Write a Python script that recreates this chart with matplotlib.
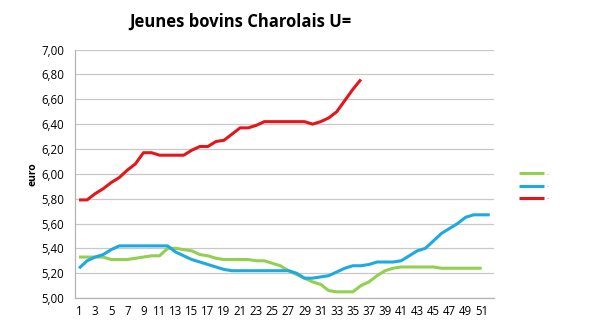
import numpy as np
from matplotlib import pyplot as plt
from matplotlib.ticker import FuncFormatter

# weekly prices (euro)
weeks_red = list(range(1, 37))
red = [5.79, 5.79, 5.84, 5.88, 5.93, 5.97, 6.03, 6.08, 6.17, 6.17,
       6.15, 6.15, 6.15, 6.15, 6.19, 6.22, 6.22, 6.26, 6.27, 6.32,
       6.37, 6.37, 6.39, 6.42, 6.42, 6.42, 6.42, 6.42, 6.42, 6.40,
       6.42, 6.45, 6.50, 6.59, 6.68, 6.76]

weeks_blue = list(range(1, 53))
blue = [5.24, 5.30, 5.33, 5.35, 5.39, 5.42, 5.42, 5.42, 5.42, 5.42,
        5.42, 5.42, 5.37, 5.34, 5.31, 5.29, 5.27, 5.25, 5.23, 5.22,
        5.22, 5.22, 5.22, 5.22, 5.22, 5.22, 5.22, 5.20, 5.16, 5.16,
        5.17, 5.18, 5.21, 5.24, 5.26, 5.26, 5.27, 5.29, 5.29, 5.29,
        5.30, 5.34, 5.38, 5.40, 5.46, 5.52, 5.56, 5.60, 5.65, 5.67,
        5.67, 5.67]

weeks_green = list(range(1, 52))
green = [5.33, 5.33, 5.33, 5.33, 5.31, 5.31, 5.31, 5.32, 5.33, 5.34,
         5.34, 5.40, 5.40, 5.39, 5.38, 5.35, 5.34, 5.32, 5.31, 5.31,
         5.31, 5.31, 5.30, 5.30, 5.28, 5.26, 5.22, 5.19, 5.16, 5.13,
         5.11, 5.06, 5.05, 5.05, 5.05, 5.10, 5.13, 5.18, 5.22, 5.24,
         5.25, 5.25, 5.25, 5.25, 5.25, 5.24, 5.24, 5.24, 5.24, 5.24,
         5.24]

title = "Jeunes bovins Charolais U="
xticks = list(range(1, 52, 2))

plt.rcParams['font.family'] = ['Open Sans', 'DejaVu Sans']

fig = plt.figure(figsize=(6, 3.33), dpi=100)
ax = fig.add_axes([0.125, 0.105, 0.698, 0.746])

l_green, = ax.plot(weeks_green, green, color='#92d050', lw=2.2, solid_capstyle='butt')
l_blue, = ax.plot(weeks_blue, blue, color='#1fa9e1', lw=2.2, solid_capstyle='butt')
l_red, = ax.plot(weeks_red, red, color='#e3161c', lw=2.2, solid_capstyle='butt')

ax.set_xlim(0.5, 52.5)
ax.set_ylim(5.0, 7.0)
ax.set_yticks(np.arange(5.0, 7.01, 0.2))
ax.yaxis.set_major_formatter(FuncFormatter(lambda v, p: ('%.2f' % v).replace('.', ',')))
ax.set_xticks(xticks)
ax.tick_params(axis='x', length=0, labelsize=8.3, pad=5)
ax.tick_params(axis='y', length=0, labelsize=8.3, pad=8)
ax.grid(axis='y', color='#c8c8c8', lw=0.9)
ax.set_axisbelow(True)
for s in ['top', 'right']:
    ax.spines[s].set_visible(False)
for s in ['left', 'bottom']:
    ax.spines[s].set_color('#b4b4b4')
    ax.spines[s].set_linewidth(0.9)

ax.set_ylabel('euro', fontsize=7.5, fontweight='bold', labelpad=2)

fig.text(0.40, 0.935, title, ha='center', va='center', fontsize=12, fontweight='bold')

leg = fig.legend([l_green, l_blue, l_red], ['-', '-', '-'], loc='center left',
                 bbox_to_anchor=(0.855, 0.44), frameon=False, fontsize=5,
                 handlelength=3.6, labelspacing=0.75, handletextpad=0.3)
for t in leg.get_texts():
    t.set_color('#b0b0b0')

fig.savefig('out.png', dpi=100)
